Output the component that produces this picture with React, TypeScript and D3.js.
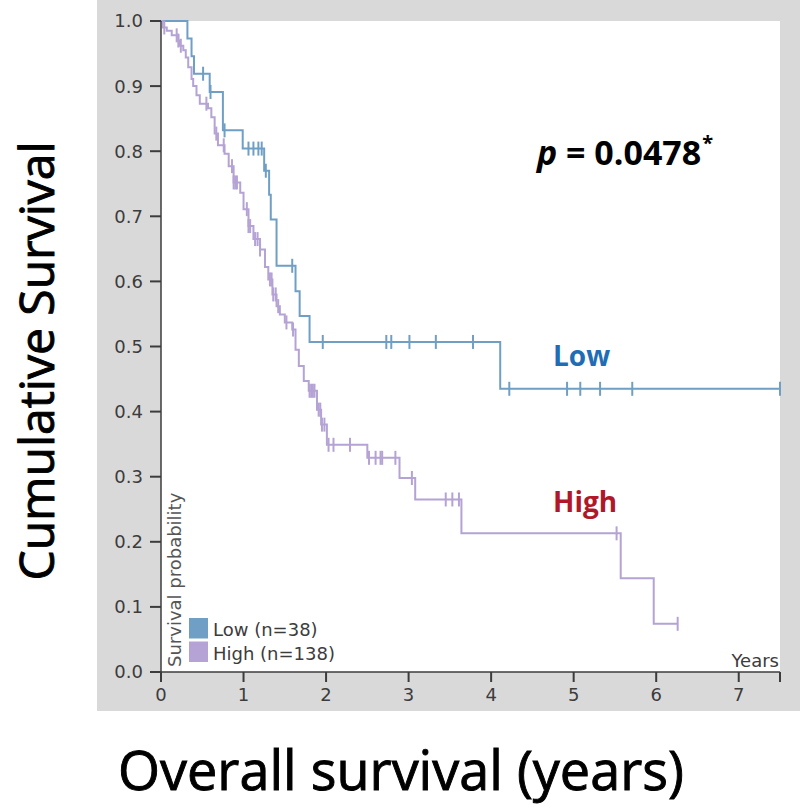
import { useEffect, useRef } from "react";
import * as d3 from "d3";

// survival curves (time in years, survival after each drop)
const lowTimes = [0.32, 0.37, 0.40, 0.59, 0.75, 0.99, 1.25, 1.31, 1.33, 1.40, 1.63, 1.68, 1.80, 4.11];
const lowSurv = [0.973, 0.946, 0.919, 0.891, 0.832, 0.804, 0.770, 0.733, 0.695, 0.624, 0.585, 0.547, 0.507, 0.435];
const lowCensor = [0.51, 0.60, 0.77, 1.06, 1.12, 1.18, 1.22, 1.27, 1.59, 1.96, 2.73, 2.79, 3.01, 3.33, 3.78, 4.22, 4.92, 5.08, 5.32, 5.71, 7.5];
const lowEnd = 7.5;

const highTimes = [0.02, 0.07, 0.13, 0.21, 0.23, 0.27, 0.30, 0.33, 0.37, 0.39, 0.43, 0.47, 0.57, 0.61, 0.65, 0.69, 0.77, 0.82, 0.88, 0.96, 1.00, 1.06, 1.12, 1.20, 1.26, 1.30, 1.35, 1.40, 1.44, 1.50, 1.59, 1.63, 1.67, 1.73, 1.79, 1.89, 1.94, 2.01, 2.50, 2.89, 3.08, 3.64, 5.57, 5.97];
const highSurv = [0.990, 0.985, 0.978, 0.970, 0.962, 0.955, 0.944, 0.929, 0.911, 0.900, 0.886, 0.873, 0.866, 0.852, 0.827, 0.809, 0.796, 0.777, 0.752, 0.736, 0.711, 0.685, 0.665, 0.649, 0.622, 0.603, 0.580, 0.562, 0.549, 0.537, 0.526, 0.495, 0.470, 0.447, 0.432, 0.403, 0.380, 0.349, 0.329, 0.298, 0.265, 0.213, 0.144, 0.074];
const highCensor = [0.04, 0.19, 0.21, 0.24, 0.55, 0.67, 0.76, 0.86, 0.88, 0.90, 0.92, 1.04, 1.06, 1.08, 1.14, 1.17, 1.20, 1.32, 1.34, 1.36, 1.39, 1.42, 1.52, 1.60, 1.80, 1.82, 1.84, 1.86, 1.91, 1.93, 1.95, 1.98, 2.03, 2.09, 2.29, 2.52, 2.60, 2.66, 2.68, 2.84, 3.04, 3.45, 3.53, 3.61, 5.52, 6.26];
const highEnd = 6.26;

const xTicks = [0, 1, 2, 3, 4, 5, 6, 7];
const yTicks = [0, 0.1, 0.2, 0.3, 0.4, 0.5, 0.6, 0.7, 0.8, 0.9, 1.0];

const groups = [
  { name: "Low (n=38)", color: "#6f9fc4", times: lowTimes, surv: lowSurv, censor: lowCensor, end: lowEnd },
  { name: "High (n=138)", color: "#b4a3d4", times: highTimes, surv: highSurv, censor: highCensor, end: highEnd }
];

export default function App() {
  const ref = useRef<SVGSVGElement>(null);

  useEffect(() => {
    const svg = d3.select(ref.current);
    svg.selectAll("*").remove();

    const tickFont = "Verdana, 'DejaVu Sans', sans-serif";
    const x = d3.scaleLinear().domain([0, 7.5]).range([161, 780]);
    const y = d3.scaleLinear().domain([0, 1]).range([672, 21]);

    svg.append("rect").attr("x", 97).attr("y", 0).attr("width", 703).attr("height", 711).attr("fill", "#d9d9d9");
    svg.append("rect").attr("x", x(0)).attr("y", y(1)).attr("width", x(7.5) - x(0)).attr("height", y(0) - y(1)).attr("fill", "#fff");

    // curves
    const line = d3.line<[number, number]>()
      .x(d => x(d[0]))
      .y(d => y(d[1]))
      .curve(d3.curveStepAfter);

    groups.forEach(g => {
      const pts: [number, number][] = [[0, 1]];
      g.times.forEach((t, i) => pts.push([t, g.surv[i]]));
      pts.push([g.end, g.surv[g.surv.length - 1]]);
      svg.append("path")
        .attr("d", line(pts))
        .attr("fill", "none")
        .attr("stroke", g.color)
        .attr("stroke-width", 2);

      const survAt = (c: number) => {
        let v = 1;
        g.times.forEach((t, i) => { if (t <= c) v = g.surv[i]; });
        return v;
      };
      svg.append("g").selectAll("line")
        .data(g.censor)
        .join("line")
        .attr("x1", d => x(d)).attr("x2", d => x(d))
        .attr("y1", d => y(survAt(d)) - 7)
        .attr("y2", d => y(survAt(d)) + 7)
        .attr("stroke", g.color)
        .attr("stroke-width", 2);
    });

    // axes
    const axisColor = "#3c3c3c";
    svg.append("line").attr("x1", x(0)).attr("x2", x(0)).attr("y1", y(1)).attr("y2", y(0))
      .attr("stroke", axisColor).attr("stroke-width", 1.5);
    svg.append("line").attr("x1", x(0)).attr("x2", x(7.5)).attr("y1", y(0)).attr("y2", y(0))
      .attr("stroke", axisColor).attr("stroke-width", 1.5);

    const yg = svg.append("g");
    yTicks.forEach(v => {
      yg.append("line").attr("x1", x(0) - 11).attr("x2", x(0)).attr("y1", y(v)).attr("y2", y(v))
        .attr("stroke", axisColor).attr("stroke-width", 2);
      yg.append("text").attr("x", 143).attr("y", y(v)).attr("dy", "0.36em")
        .attr("text-anchor", "end").attr("font-family", tickFont).attr("font-size", 18)
        .attr("fill", axisColor).text(v.toFixed(1));
    });

    const xg = svg.append("g");
    [...xTicks, 7.5].forEach(t => {
      xg.append("line").attr("x1", x(t)).attr("x2", x(t)).attr("y1", y(0)).attr("y2", y(0) + 10)
        .attr("stroke", axisColor).attr("stroke-width", 2);
    });
    xTicks.forEach(t => {
      xg.append("text").attr("x", x(t)).attr("y", 701)
        .attr("text-anchor", "middle").attr("font-family", tickFont).attr("font-size", 18)
        .attr("fill", axisColor).text(t);
    });

    svg.append("text").attr("x", 779).attr("y", 667).attr("text-anchor", "end")
      .attr("font-family", tickFont).attr("font-size", 18).attr("fill", axisColor).text("Years");

    svg.append("text").attr("transform", "translate(181,667) rotate(-90)")
      .attr("font-family", tickFont).attr("font-size", 18).attr("fill", "#555").text("Survival probability");

    // legend
    groups.forEach((g, i) => {
      svg.append("rect").attr("x", 189).attr("y", 618 + i * 23.5).attr("width", 19).attr("height", 20.5)
        .attr("fill", g.color);
      svg.append("text").attr("x", 213).attr("y", 636 + i * 23.5)
        .attr("font-family", tickFont).attr("font-size", 18).attr("fill", axisColor).text(g.name);
    });

    // annotations
    const bigFont = "'Open Sans', 'Noto Sans', sans-serif";
    const pv = svg.append("text").attr("x", 537).attr("y", 165)
      .attr("font-family", bigFont).attr("font-size", 34).attr("font-weight", "bold").attr("fill", "#000");
    pv.append("tspan").attr("font-style", "italic").text("p");
    pv.append("tspan").text(" = 0.0478");
    pv.append("tspan").attr("font-size", 20).attr("dx", 1).attr("dy", -15).text("*");

    svg.append("text").attr("x", 553).attr("y", 366)
      .attr("font-family", bigFont).attr("font-size", 28).attr("font-weight", "bold")
      .attr("fill", "#1f6db5").text("Low");
    svg.append("text").attr("x", 553).attr("y", 512)
      .attr("font-family", bigFont).attr("font-size", 28).attr("font-weight", "bold")
      .attr("fill", "#b0182a").text("High");

    svg.append("text").attr("transform", "translate(54,361) rotate(-90)")
      .attr("text-anchor", "middle").attr("font-family", bigFont).attr("font-size", 48)
      .attr("stroke", "#000").attr("stroke-width", 0.9)
      .attr("fill", "#000").text("Cumulative Survival");

    svg.append("text").attr("x", 401).attr("y", 790)
      .attr("text-anchor", "middle").attr("font-family", bigFont).attr("font-size", 54)
      .attr("stroke", "#000").attr("stroke-width", 0.9)
      .attr("fill", "#000").text("Overall survival (years)");
  }, []);

  return (
    <svg ref={ref} width={800} height={811}
      style={{ position: "absolute", left: 0, top: 0, background: "#fff" }} />
  );
}
